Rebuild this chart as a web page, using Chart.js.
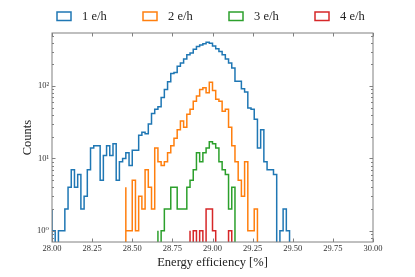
<!DOCTYPE html>
<html>
<head>
<meta charset="utf-8">
<script src="https://cdn.jsdelivr.net/npm/chart.js"></script>
<style>
    html, body { margin: 0; padding: 0; background: #fff; }
    #wrap { width: 415px; height: 277px; }
</style>
</head>
<body>
<div id="wrap">
    <canvas id="histChart"></canvas>
</div>

<script>
    // histogram bins are 0.02 wide, each series has its own first edge
    const binWidth = 0.02;
    const seriesLabels = ['1 e/h', '2 e/h', '3 e/h', '4 e/h'];
    const seriesColors = ['#1f77b4', '#ff7f0e', '#2ca02c', '#d62728'];
    const seriesStarts = [28.00, 28.46, 28.66, 28.86];

    const counts1 = [2, 1, 0, 1, 1, 2, 4, 7, 4, 6,
        2, 3, 7, 14, 15, 15, 5, 11, 15, 11,
        16, 5, 9, 10, 12, 8, 13, 13, 21, 23,
        22, 30, 42, 48, 52, 70, 90, 115, 150, 155,
        188, 209, 237, 272, 287, 325, 353, 372, 385, 406,
        393, 361, 330, 302, 272, 237, 209, 179, 117, 117,
        92, 83, 50, 48, 35, 14, 25, 9, 7, 7,
        6, 0, 1, 2, 1];
    const counts2 = [4, 1, 1, 5, 1, 3, 2, 7, 4, 2,
        14, 9, 8, 9, 12, 15, 19, 25, 33, 27,
        41, 48, 62, 73, 90, 95, 81, 113, 87, 66,
        62, 45, 48, 27, 15, 9, 5, 3, 9, 1,
        1, 2];
    const counts3 = [1, 0, 1, 2, 2, 4, 4, 2, 2, 2,
        4, 5, 7, 12, 9, 12, 14, 17, 16, 14,
        9, 7, 6, 2, 4];
    const counts4 = [1, 0, 1, 0, 1, 0, 2, 2, 1, 0,
        0, 0, 0, 1];
    const allCounts = [counts1, counts2, counts3, counts4];

    const xTicks = [28.00, 28.25, 28.50, 28.75, 29.00, 29.25, 29.50, 29.75, 30.00];
    const yTicks = [1, 10, 100];
    const yTickLabels = ['10⁰', '10¹', '10²'];
    const yMin = 0.746;
    const yMax = 544;

    const serif = "'Liberation Serif', 'DejaVu Serif', serif";

    // outline of a step histogram: up from the floor, across the bins, back down
    function stepPoints(start, counts) {
        const low = yMin / 100;
        const pts = [{x: start, y: low}];
        counts.forEach((c, i) => pts.push({x: start + i * binWidth, y: c > 0 ? c : low}));
        pts.push({x: start + counts.length * binWidth, y: low});
        return pts;
    }

    const datasets = allCounts.map((c, k) => ({
        label: seriesLabels[k],
        data: stepPoints(seriesStarts[k], c),
        stepped: 'after',
        borderColor: seriesColors[k],
        backgroundColor: 'transparent',
        borderWidth: 1.5,
        pointRadius: 0,
        fill: false
    }));

    const frameTicks = {
        id: 'frameTicks',
        afterDatasetsDraw(chart) {
            const {ctx, chartArea: a, scales: {x, y}} = chart;
            ctx.save();
            ctx.strokeStyle = '#808080';
            ctx.lineWidth = 1;
            ctx.strokeRect(a.left, a.top, a.right - a.left, a.bottom - a.top);
            ctx.beginPath();
            xTicks.forEach(v => {
                const px = Math.round(x.getPixelForValue(v)) + 0.5;
                ctx.moveTo(px, a.bottom); ctx.lineTo(px, a.bottom - 3.5);
                ctx.moveTo(px, a.top); ctx.lineTo(px, a.top + 3.5);
            });
            for (let d = -1; d <= 2; d++) {
                for (let m = 1; m <= 9; m++) {
                    const v = m * Math.pow(10, d);
                    if (v < yMin || v > yMax) continue;
                    const len = m === 1 ? 3.5 : 2;
                    const py = Math.round(y.getPixelForValue(v)) + 0.5;
                    ctx.moveTo(a.left, py); ctx.lineTo(a.left + len, py);
                    ctx.moveTo(a.right, py); ctx.lineTo(a.right - len, py);
                }
            }
            ctx.stroke();
            ctx.restore();
        },
        afterDraw(chart) {
            // legend row above the axes
            const ctx = chart.ctx;
            ctx.save();
            ctx.font = '12.5px ' + serif;
            ctx.textBaseline = 'middle';
            ctx.lineWidth = 1.5;
            seriesLabels.forEach((lab, k) => {
                const bx = 57 + k * 86;
                ctx.strokeStyle = seriesColors[k];
                ctx.strokeRect(bx, 12, 14, 8.5);
                ctx.fillStyle = '#222';
                ctx.fillText(lab, bx + 25, 16.5);
            });
            ctx.restore();
        }
    };

    new Chart(document.getElementById('histChart').getContext('2d'), {
        type: 'line',
        data: {datasets: datasets},
        options: {
            responsive: true,
            maintainAspectRatio: false,
            animation: false,
            layout: {padding: {top: 33, right: 42, left: 0, bottom: 0}},
            plugins: {
                legend: {display: false},
                tooltip: {enabled: false}
            },
            scales: {
                x: {
                    type: 'linear',
                    min: 28,
                    max: 30,
                    afterBuildTicks: s => { s.ticks = xTicks.map(v => ({value: v})); },
                    afterFit: s => { s.height = 35; },
                    grid: {display: false, drawTicks: false},
                    border: {display: false},
                    ticks: {
                        autoSkip: false,
                        maxRotation: 0,
                        padding: 2,
                        color: '#333',
                        font: {family: serif, size: 8.5},
                        callback: v => Number(v).toFixed(2)
                    },
                    title: {
                        display: true,
                        text: 'Energy efficiency [%]',
                        color: '#222',
                        font: {family: serif, size: 12.5},
                        padding: {top: 0, bottom: 7}
                    }
                },
                y: {
                    type: 'logarithmic',
                    min: yMin,
                    max: yMax,
                    afterBuildTicks: s => { s.ticks = yTicks.map(v => ({value: v})); },
                    afterFit: s => { s.width = 52; },
                    grid: {display: false, drawTicks: false},
                    border: {display: false},
                    ticks: {
                        autoSkip: false,
                        padding: 3,
                        color: '#333',
                        font: {family: serif, size: 8.5},
                        callback: v => yTickLabels[yTicks.indexOf(v)] || ''
                    },
                    title: {
                        display: true,
                        text: 'Counts',
                        color: '#222',
                        font: {family: serif, size: 12.5},
                        padding: {top: 20, bottom: 0}
                    }
                }
            }
        },
        plugins: [frameTicks]
    });
</script>
</body>
</html>
